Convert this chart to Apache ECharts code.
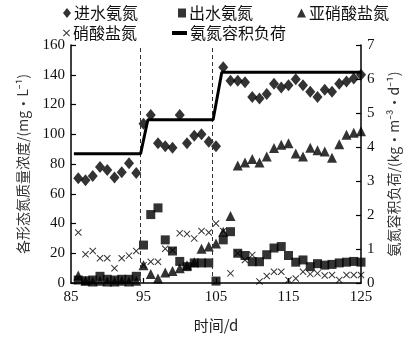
<!DOCTYPE html>
<html>
<head>
<meta charset="utf-8">
<script src="https://cdn.jsdelivr.net/npm/echarts@6/dist/echarts.min.js"></script>
<style>
  html, body { margin: 0; padding: 0; background: #fff; }
  #chart { width: 419px; height: 339px; }
</style>
</head>
<body>
<div id="chart"></div>
<script>
// Sampling days (d)
const days = [86, 87, 88, 89, 90, 91, 92, 93, 94, 95,
              96, 97, 98, 99, 100, 101, 102, 103, 104, 105,
              106, 107, 108, 109, 110, 111, 112, 113, 114, 115,
              116, 117, 118, 119, 120, 121, 122, 123, 124, 125];

// Influent ammonium N (mg/L)
const influentNH4 = [70.5, 69, 72, 78, 76, 71, 74.5, 80.5, 74, 107,
                     113, 94, 92, 91, 113, 94, 99, 100, 95, 92,
                     145, 136, 136, 135, 125, 124, 127, 134, 131.5, 133,
                     137, 133, 128.5, 125, 130, 128.5, 134, 135.5, 137.5, 140];

// Effluent ammonium N (mg/L)
const effluentNH4 = [2, 1.5, 2, 4.5, 2.5, 2, 2.5, 2.5, 4.5, 25.5,
                     46, 50.5, 29, 21.5, 14.5, 11, 13.5, 13.5, 13.5, 1.3,
                     29, 34.5, 20, 18.5, 14.3, 14.3, 19, 23.5, 24.5, 18.5,
                     14, 15.5, 11, 13, 12, 12.5, 13.5, 14, 14.5, 14];

// Nitrite N (mg/L)
const nitriteN = [5, 1.5, 1, 1.5, 1, 1, 1.5, 1, 1.5, 12,
                  6, 3, 7, 8, 10, 12, 14, 23, 24.5, 26.5,
                  34.5, 45, 79, 81, 83.3, 81, 85, 90.7, 93, 94,
                  87, 85, 91, 89.3, 88.4, 84.2, 93.2, 99.7, 101, 102];

// Nitrate N (mg/L)
const nitrateN = [34, 19.3, 21.5, 16.6, 16.6, 9.9, 16.6, 18.4, 21.5, 12,
                  14.3, 14.3, 23, 22, 33.5, 33, 30, 35, 34, 40,
                  35, 6.5, 20, 15.5, 18.9, 1, 4.7, 7.6, 7.6, 2,
                  3, 7.6, 6, 6.5, 5, 5.4, 2, 5.4, 5.4, 5.4];

// Ammonium volumetric loading rate (kg·m⁻³·d⁻¹), stepped per stage
const loadDays = [85.4, 94.6, 95.6, 104.6, 105.8, 125];
const loadRate = [3.8, 3.8, 4.8, 4.8, 6.2, 6.2];

// Stage boundaries and stage labels
const stageBounds = [94.6, 104.5];
const stageNames = ['V', 'VI', 'VII'];
const stageLabelDays = [90, 99, 115];
const stageLabelLevel = 147.5;

// Axis ticks
const xLabelValues = [85, 95, 105, 115, 125];
const xTickValues = [95, 105, 115];

const zip = (xs, ys) => xs.map((x, i) => [x, ys[i]]);

const serif = '"Liberation Serif", "DejaVu Serif", serif';
const cjk = '"Noto Sans CJK SC", "Noto Sans", sans-serif';
const crossPath = 'path://M0,1L1,0L5,4L9,0L10,1L6,5L10,9L9,10L5,6L1,10L0,9L4,5Z';

const names = {
  inf: '进水氨氮',
  eff: '出水氨氮',
  nit: '亚硝酸盐氮',
  nat: '硝酸盐氮',
  load: '氨氮容积负荷'
};

function legendAt(name, left, top, icon, w, h) {
  return {
    data: [{ name: name, icon: icon }],
    left: left, top: top,
    itemWidth: w, itemHeight: h,
    padding: 0,
    selectedMode: false,
    textStyle: { fontFamily: cjk, fontSize: 16, color: '#111', padding: [0, 0, 0, -2] }
  };
}

const chart = echarts.init(document.getElementById('chart'), null, { renderer: 'canvas' });

const axisLineStyle = { color: '#000', width: 1.5 };

chart.setOption({
  animation: false,
  backgroundColor: '#fff',
  grid: { left: 71, right: 58, top: 45, bottom: 56 },
  legend: [
    legendAt(names.inf, 63, 5, 'diamond', 8, 10),
    legendAt(names.eff, 178, 5, 'rect', 8, 9),
    legendAt(names.nit, 297, 5, 'triangle', 9, 9),
    legendAt(names.nat, 63, 25, crossPath, 7, 7),
    legendAt(names.load, 172, 25, 'rect', 15, 4)
  ],
  xAxis: {
    type: 'value',
    min: 85, max: 125,
    name: '时间/d',
    nameLocation: 'middle',
    nameGap: 35,
    nameTextStyle: { fontFamily: cjk, fontSize: 15, color: '#222' },
    axisLine: { show: true, lineStyle: axisLineStyle },
    axisTick: { show: true, inside: true, length: 5, customValues: xTickValues, lineStyle: { color: '#000', width: 1.2 } },
    axisLabel: { customValues: xLabelValues, fontFamily: serif, fontSize: 15, color: '#111', margin: 7 },
    splitLine: { show: false }
  },
  yAxis: [
    {
      type: 'value',
      min: 0, max: 160, interval: 20,
      name: '各形态氮质量浓度/(mg·L⁻¹)',
      nameLocation: 'middle',
      nameRotate: 90,
      nameGap: 41,
      nameTextStyle: { fontFamily: cjk, fontSize: 14, color: '#333' },
      axisLine: { show: true, lineStyle: axisLineStyle },
      axisTick: { show: true, inside: true, length: 5, lineStyle: { color: '#000', width: 1.2 } },
      axisLabel: { fontFamily: serif, fontSize: 15, color: '#111', margin: 6 },
      splitLine: { show: false }
    },
    {
      type: 'value',
      min: 0, max: 7, interval: 1,
      position: 'right',
      name: '氨氮容积负荷/(kg·m⁻³·d⁻¹)',
      nameLocation: 'middle',
      nameRotate: 90,
      nameGap: 26,
      nameTextStyle: { fontFamily: cjk, fontSize: 14, color: '#333' },
      axisLine: { show: true, lineStyle: axisLineStyle },
      axisTick: { show: true, inside: true, length: 5, lineStyle: { color: '#000', width: 1.2 } },
      axisLabel: { fontFamily: serif, fontSize: 15, color: '#111', margin: 6 },
      splitLine: { show: false }
    }
  ],
  series: [
    {
      name: names.inf,
      type: 'scatter',
      symbol: 'diamond',
      symbolSize: [10, 12],
      itemStyle: { color: '#000' },
      data: zip(days, influentNH4),
      markLine: {
        silent: true,
        symbol: 'none',
        label: { show: false },
        lineStyle: { color: '#333', type: [4, 3], width: 1 },
        data: stageBounds.map(d => ({ xAxis: d }))
      }
    },
    {
      name: names.eff,
      type: 'scatter',
      symbol: 'rect',
      symbolSize: 9,
      itemStyle: { color: '#000' },
      data: zip(days, effluentNH4)
    },
    {
      name: names.nit,
      type: 'scatter',
      symbol: 'triangle',
      symbolSize: [10, 10],
      itemStyle: { color: '#000' },
      data: zip(days, nitriteN)
    },
    {
      name: names.nat,
      type: 'scatter',
      symbol: crossPath,
      symbolSize: 7,
      itemStyle: { color: '#000' },
      data: zip(days, nitrateN)
    },
    {
      name: names.load,
      type: 'line',
      yAxisIndex: 1,
      symbol: 'none',
      lineStyle: { color: '#000', width: 3 },
      itemStyle: { color: '#000' },
      data: zip(loadDays, loadRate),
      z: 5
    },
    {
      name: 'stages',
      type: 'scatter',
      symbol: 'none',
      silent: true,
      data: stageNames.map((n, i) => ({ value: [stageLabelDays[i], stageLabelLevel], name: n })),
      label: {
        show: true,
        position: 'inside',
        formatter: p => p.name,
        fontFamily: serif,
        fontSize: 15,
        color: '#222'
      }
    }
  ]
});
</script>
</body>
</html>
